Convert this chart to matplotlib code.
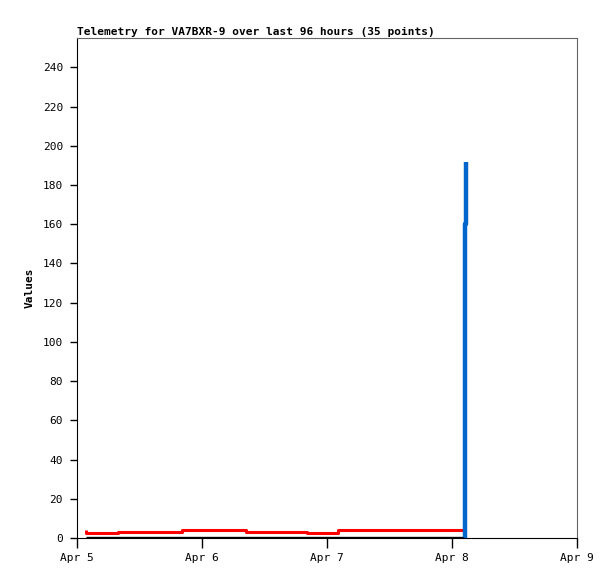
import matplotlib
matplotlib.use("Agg")
import matplotlib.pyplot as plt
import numpy as np

# --------------------------
# DADOS (horas desde Apr 5 00:00)
# --------------------------

red_hours = [1.7, 1.8, 7.9, 20.2, 32.4, 44.2, 50.2, 50.9, 74.2]
red_values = [4.2, 2.7, 3.2, 3.9, 3.2, 2.7, 3.9, 3.9, 3.9]

zero_hours = [1.7, 74.6]
zero_values = [0, 0]

blue_hours = [74.3, 74.4, 74.55, 74.7]
blue_values = [0, 96, 160, 192]

tick_days = [0, 1, 2, 3, 4]
tick_labels = ["Apr 5", "Apr 6", "Apr 7", "Apr 8", "Apr 9"]

TITLE = "Telemetry for VA7BXR-9 over last 96 hours (35 points)"

# --------------------------
# GRÁFICO
# --------------------------

mono = "DejaVu Sans Mono"
fig = plt.figure(figsize=(6.15, 5.79), dpi=100)
ax = fig.add_axes([77 / 615, 41 / 579, 500 / 615, 500 / 579])

ax.plot(np.array(zero_hours) / 24, zero_values, color="black", lw=2.4,
        solid_capstyle="butt", zorder=3)
ax.plot(np.array(red_hours) / 24, red_values, color="#ff0000", lw=2.2,
        drawstyle="steps-post", solid_capstyle="butt", zorder=2)
ax.plot(np.array(blue_hours) / 24, blue_values, color="#0066cc", lw=3.2,
        drawstyle="steps-post", solid_capstyle="butt", zorder=4)

ax.set_xlim(0, 4)
ax.set_ylim(0, 255)
ax.set_xticks(tick_days)
ax.set_xticklabels(tick_labels, fontfamily=mono, fontsize=8)
ax.set_yticks(range(0, 241, 20))
for lab in ax.get_yticklabels():
    lab.set_fontfamily(mono)
    lab.set_fontsize(8)

ax.tick_params(axis="x", direction="out", length=7, width=1, pad=4, colors="black")
ax.tick_params(axis="y", direction="out", length=5, width=1, pad=5, colors="black")

for side in ["top", "right"]:
    ax.spines[side].set_color("#666666")
for side in ["left", "bottom"]:
    ax.spines[side].set_color("black")

ax.set_ylabel("Values", fontfamily=mono, fontsize=8, fontweight="bold", labelpad=6)
ax.set_title(TITLE, loc="left", fontfamily=mono, fontsize=8, fontweight="bold", pad=2)

plt.savefig("out.png", dpi=100)
plt.close()
